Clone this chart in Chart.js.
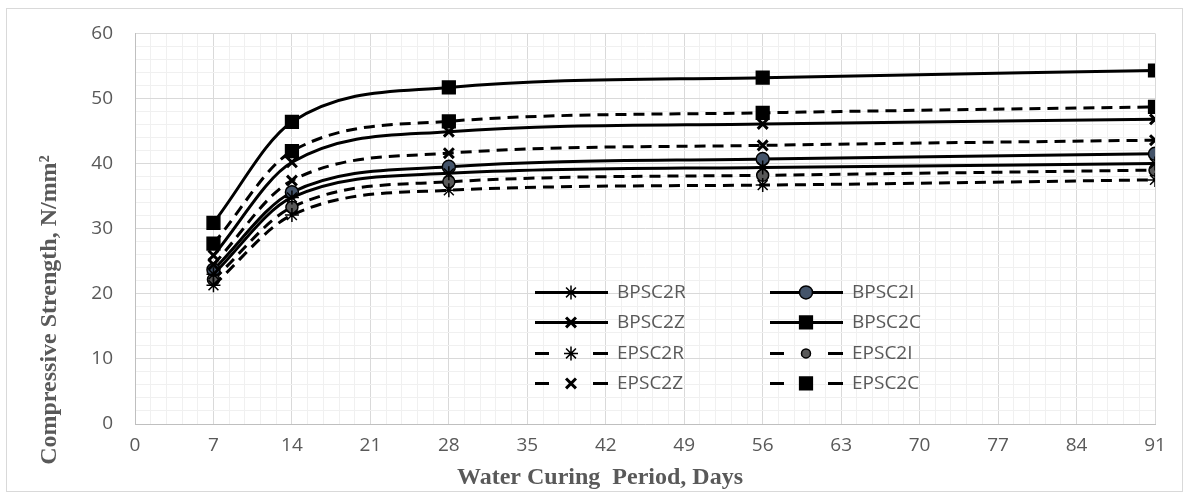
<!DOCTYPE html>
<html>
<head>
<meta charset="utf-8">
<script src="https://cdn.jsdelivr.net/npm/chart.js@4.4.1/dist/chart.umd.min.js"></script>
<style>
html, body { margin: 0; padding: 0; background: #fff; }
#wrap { width: 1186px; height: 495px; position: relative; }
</style>
</head>
<body>
<div id="wrap"><canvas id="chart"></canvas></div>
<script>
// curing days and strengths (N/mm2)
const days = [7, 14, 28, 56, 91];
const bpsc2r = [23.0, 34.8, 38.5, 39.4, 40.0];
const bpsc2i = [23.7, 35.6, 39.5, 40.7, 41.5];
const bpsc2z = [25.9, 40.2, 44.9, 46.1, 46.8];
const bpsc2c = [30.9, 46.4, 51.7, 53.2, 54.3];
const epsc2r = [21.3, 32.1, 35.9, 36.7, 37.5];
const epsc2i = [22.2, 33.3, 37.2, 38.2, 39.0];
const epsc2z = [24.5, 37.4, 41.6, 42.8, 43.6];
const epsc2c = [27.7, 41.9, 46.5, 47.8, 48.7];

const xTicks = [0, 7, 14, 21, 28, 35, 42, 49, 56, 63, 70, 77, 84, 91];
const yTicks = [0, 10, 20, 30, 40, 50, 60];

const DASH = [11, 7];

function pts(vals) {
	return days.map((d, i) => ({ x: d, y: vals[i] }));
}

function series(label, vals, style, dashed, radius, fill) {
	return {
		label: label,
		data: pts(vals),
		borderColor: "#000",
		borderWidth: 3,
		borderDash: dashed ? DASH : [],
		pointStyle: style,
		pointRadius: radius,
		pointHoverRadius: radius,
		pointBackgroundColor: fill,
		pointBorderColor: "#000",
		pointBorderWidth: style === "circle" ? 1.5 : (style === "crossRot" ? 3 : 1.5),
		cubicInterpolationMode: "monotone",
		fill: false,
	};
}

const datasets = [
	series("BPSC2R", bpsc2r, "star", false, 7, "#000"),
	series("BPSC2Z", bpsc2z, "crossRot", false, 7, "#000"),
	series("EPSC2R", epsc2r, "star", true, 7, "#000"),
	series("EPSC2Z", epsc2z, "crossRot", true, 7, "#000"),
	series("BPSC2I", bpsc2i, "circle", false, 6.5, "#44546a"),
	series("BPSC2C", bpsc2c, "rect", false, 9, "#000"),
	series("EPSC2I", epsc2i, "circle", true, 6, "#595959"),
	series("EPSC2C", epsc2c, "rect", true, 9, "#000"),
];

// chart frame, axis titles and the in-plot legend
const extras = {
	id: "extras",
	beforeDraw(chart) {
		const c = chart.ctx;
		c.save();
		c.fillStyle = "#fff";
		c.fillRect(0, 0, chart.width, chart.height);
		c.strokeStyle = "#d9d9d9";
		c.lineWidth = 1;
		c.strokeRect(6.5, 8.5, chart.width - 10, chart.height - 12);
		c.restore();
	},
	afterDraw(chart) {
		const c = chart.ctx;
		const a = chart.chartArea;
		c.save();
		c.fillStyle = "#595959";
		c.font = "bold 24px 'Liberation Serif', 'Times New Roman', serif";
		c.textAlign = "center";
		c.textBaseline = "middle";
		c.fillText("Water Curing  Period, Days", 600, 478);
		c.translate(50, 310);
		c.rotate(-Math.PI / 2);
		c.fillText("Compressive Strength, N/mm\u00b2", 0, 0);
		c.restore();

		// legend: two columns inside the plot
		const cols = [a.left + 400, a.left + 635];
		const rows = [a.top + 259, a.top + 289, a.top + 320, a.top + 350];
		c.save();
		c.font = "19px 'Open Sans', 'Liberation Sans', sans-serif";
		c.textBaseline = "middle";
		c.textAlign = "left";
		datasets.forEach((ds, i) => {
			const x0 = cols[Math.floor(i / 4)];
			const y = rows[i % 4];
			c.strokeStyle = "#000";
			c.lineWidth = 3;
			c.setLineDash([]);
			c.beginPath();
			if (ds.borderDash.length) {
				c.moveTo(x0, y); c.lineTo(x0 + 14, y);
				c.moveTo(x0 + 58, y); c.lineTo(x0 + 73, y);
			} else {
				c.moveTo(x0, y); c.lineTo(x0 + 73, y);
			}
			c.stroke();
			c.fillStyle = ds.pointBackgroundColor;
			c.strokeStyle = "#000";
			c.lineWidth = ds.pointBorderWidth;
			const r = ds.pointStyle === "circle" && ds.borderDash.length ? 4.5 : ds.pointRadius;
			Chart.helpers.drawPoint(c, { pointStyle: ds.pointStyle, radius: r, borderWidth: ds.pointBorderWidth, rotation: 0 }, x0 + 36, y);
			c.fillStyle = "#595959";
			c.fillText(ds.label, x0 + 82, y);
		});
		c.restore();
	},
};

const tickFont = { family: "'Open Sans', 'Liberation Sans', sans-serif", size: 19 };

new Chart(document.getElementById("chart"), {
	type: "line",
	data: { datasets: datasets },
	plugins: [extras],
	options: {
		responsive: true,
		maintainAspectRatio: false,
		animation: false,
		layout: { padding: { top: 33, right: 31, left: 0, bottom: 0 } },
		plugins: { legend: { display: false }, tooltip: { enabled: false } },
		scales: {
			x: {
				type: "linear",
				min: 0,
				max: 91,
				afterBuildTicks(axis) {
					const t = [];
					for (let i = 0; i <= 65; i++) t.push({ value: +(i * 1.4).toFixed(2) });
					axis.ticks = t;
				},
				afterFit(axis) { axis.height = 71; },
				grid: {
					color: (ctx) => (ctx.index % 5 === 0 ? "#d9d9d9" : "#f0f0f0"),
					lineWidth: 1,
					drawTicks: false,
				},
				border: { color: "#bfbfbf" },
				ticks: {
					autoSkip: false,
					maxRotation: 0,
					padding: 10,
					color: "#595959",
					font: tickFont,
					callback: (v, i) => (i % 5 === 0 ? xTicks[i / 5] : ""),
				},
			},
			y: {
				min: 0,
				max: 60,
				afterBuildTicks(axis) {
					const t = [];
					for (let v = 0; v <= 60; v += 2) t.push({ value: v });
					axis.ticks = t;
				},
				afterFit(axis) { axis.width = 135; },
				grid: {
					color: (ctx) => (ctx.index % 5 === 0 ? "#d9d9d9" : "#f0f0f0"),
					lineWidth: 1,
					drawTicks: false,
				},
				border: { color: "#bfbfbf" },
				ticks: {
					autoSkip: false,
					padding: 22,
					color: "#595959",
					font: tickFont,
					callback: (v, i) => (i % 5 === 0 ? yTicks[i / 5] : ""),
				},
			},
		},
	},
});
</script>
</body>
</html>
